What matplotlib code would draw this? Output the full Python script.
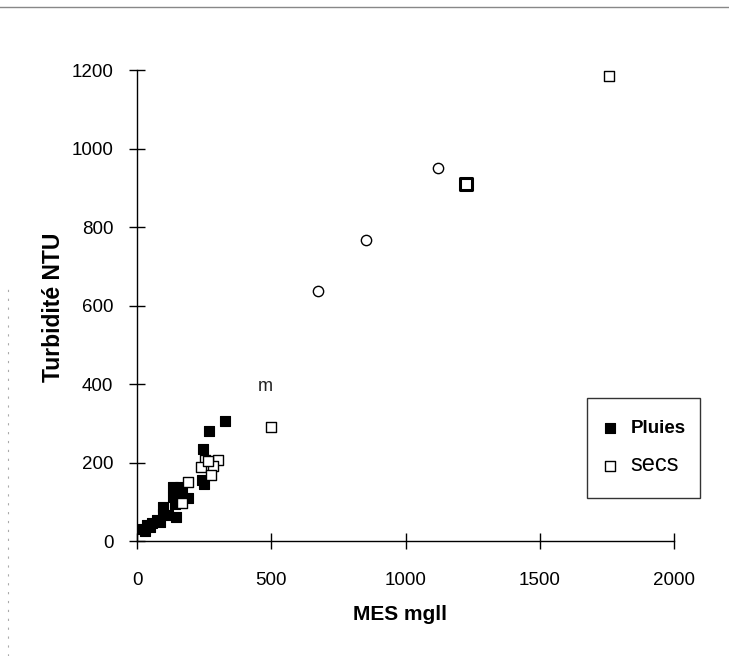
import matplotlib
matplotlib.use("Agg")
import matplotlib.pyplot as plt
from matplotlib.lines import Line2D
from matplotlib.patches import Rectangle

plt.rcParams['font.family'] = ['Liberation Sans', 'DejaVu Sans']

# Pluies (filled squares)
pluies_x = [328, 269, 247, 241, 251, 133, 160, 135, 191, 166, 141, 98, 95, 145, 116,
            73, 54, 36, 23, 30, 48, 86]
pluies_y = [307, 280, 236, 155, 147, 138, 138, 113, 109, 126, 96, 87, 70, 62, 66,
            53, 47, 41, 30, 25, 35, 49]

# secs (open squares)
secs_x = [303, 253, 284, 239, 274, 189, 166, 265, 500, 1758]
secs_y = [208, 208, 191, 189, 168, 151, 98, 205, 290, 1185]

# other marks in the scan
circ_x = [674, 853, 1121]
circ_y = [637, 767, 950]
bold_x = [1225]
bold_y = [909]

fig = plt.figure(figsize=(7.29, 6.56), dpi=100)
ax = fig.add_axes([0.188, 0.175, 0.737, 0.718])

ax.scatter(pluies_x, pluies_y, marker='s', s=60, c='black', edgecolors='black',
           linewidths=0.8, label='Pluies', zorder=3)
ax.scatter(secs_x, secs_y, marker='s', s=60, c='white', edgecolors='black',
           linewidths=1.0, label='secs', zorder=4)
ax.scatter(circ_x, circ_y, marker='o', s=55, c='white', edgecolors='black',
           linewidths=1.0, zorder=4)
ax.scatter(bold_x, bold_y, marker='s', s=80, c='white', edgecolors='black',
           linewidths=2.2, zorder=4)
ax.text(477, 395, 'm', fontsize=13, ha='center', va='center', color='#222222')

ax.set_xlim(0, 2000)
ax.set_ylim(0, 1200)
ax.set_xticks([0, 500, 1000, 1500, 2000])
ax.set_yticks([0, 200, 400, 600, 800, 1000, 1200])
ax.tick_params(direction='inout', length=12, width=1, labelsize=13.5)
ax.tick_params(axis='x', pad=16)
ax.tick_params(axis='y', pad=11)
for s in ['top', 'right']:
    ax.spines[s].set_visible(False)
ax.spines['left'].set_linewidth(1.0)
ax.spines['bottom'].set_linewidth(1.0)

ax.set_xlabel('MES mgll', fontsize=15, fontweight='bold')
ax.xaxis.set_label_coords(0.49, -0.136)
ax.set_ylabel('Turbidité NTU', fontsize=16.5, fontweight='bold')
ax.yaxis.set_label_coords(-0.135, 0.497)

# legend box
box = Rectangle((0.838, 0.091), 0.21, 0.212, transform=ax.transAxes, fill=False,
                edgecolor='#333333', lw=1.0, clip_on=False, zorder=5)
ax.add_patch(box)
leg = ax.legend(loc='center left', bbox_to_anchor=(0.845, 0.198), frameon=False,
                fontsize=13.5, borderpad=0.0, labelspacing=0.9, handletextpad=0.6,
                handlelength=1.0, markerscale=0.9)
leg.get_texts()[0].set_fontweight('bold')
leg.get_texts()[1].set_fontsize(17)

# scan artefacts: border line at top, dotted edge at left
fig.add_artist(Line2D([0.0, 1.0], [0.989, 0.989], color='#888888', lw=1.0))
fig.add_artist(Line2D([0.011, 0.011], [0.0, 0.56], color='#aaaaaa', lw=0.8,
                      linestyle=(0, (2, 6))))

fig.savefig('out.png', dpi=100, facecolor='white')
